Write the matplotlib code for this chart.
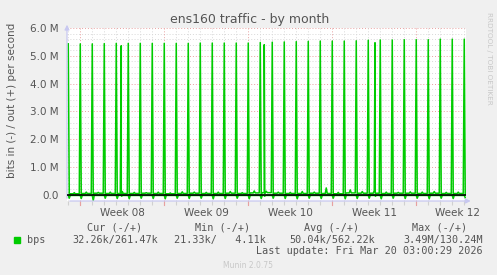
import numpy as np
import matplotlib
matplotlib.use("Agg")
import matplotlib.pyplot as plt
import matplotlib.dates as mdates
from datetime import datetime, timedelta

# ── data (bits/s) ───────────────────────────────────────────────
# one large daily burst at ~00:30, Feb 15 .. Mar 20
spike_days = [datetime(2026, 2, 15) + timedelta(days=i) for i in range(34)]
spike_out = [5.43, 5.43, 5.43, 5.44, 5.45, 5.45, 5.45, 5.45, 5.45, 5.45,
             5.45, 5.46, 5.46, 5.46, 5.46, 5.46, 5.48, 5.49, 5.50, 5.51,
             5.52, 5.53, 5.53, 5.53, 5.54, 5.56, 5.57, 5.57, 5.58, 5.58,
             5.58, 5.60, 5.60, 5.60]
# daily background level and midday bump of the out traffic (M)
base_out = [0.04, 0.05, 0.06, 0.05, 0.05, 0.05, 0.06, 0.05, 0.04, 0.05,
            0.06, 0.05, 0.05, 0.06, 0.05, 0.07, 0.08, 0.06, 0.05, 0.05,
            0.06, 0.05, 0.04, 0.07, 0.06, 0.06, 0.05, 0.06, 0.06, 0.05,
            0.06, 0.05, 0.05, 0.04]
bump_out = [0.08, 0.10, 0.09, 0.10, 0.12, 0.09, 0.08, 0.10, 0.07, 0.11,
            0.10, 0.09, 0.10, 0.12, 0.08, 0.14, 0.13, 0.10, 0.09, 0.12,
            0.10, 0.25, 0.09, 0.18, 0.12, 0.15, 0.10, 0.09, 0.11, 0.10,
            0.12, 0.09, 0.10, 0.08]
# in traffic (drawn negative), dip right after each burst (M)
dip_in = [0.12, 0.13, 0.20, 0.12, 0.13, 0.14, 0.12, 0.13, 0.14, 0.12,
          0.13, 0.12, 0.14, 0.13, 0.12, 0.14, 0.13, 0.12, 0.13, 0.14,
          0.12, 0.13, 0.12, 0.14, 0.13, 0.12, 0.14, 0.12, 0.13, 0.12,
          0.14, 0.12, 0.13, 0.10]
# extra bursts outside the nightly slot
extra_times = [datetime(2026, 2, 19, 10, 30), datetime(2026, 3, 3, 8, 30),
               datetime(2026, 3, 12, 14, 0)]
extra_out = [5.36, 5.40, 5.47]

week_labels = ["Week 08", "Week 09", "Week 10", "Week 11", "Week 12"]
week_starts = [datetime(2026, 2, 16) + timedelta(days=7 * i) for i in range(5)]

legend_rows = {
    "Cur (-/+)": "32.26k/261.47k",
    "Min (-/+)": "21.33k/   4.11k",
    "Avg (-/+)": "50.04k/562.22k",
    "Max (-/+)": "3.49M/130.24M",
}

t_end = datetime(2026, 3, 20, 3, 0, 29)
t_start = t_end - timedelta(days=33.21)

# ── build 2-hourly series from the daily values ─────────────────
times, out_v, in_v = [], [], []
for d, sp, b, bu, di in zip(spike_days, spike_out, base_out, bump_out, dip_in):
    for h in range(12):
        t = d + timedelta(hours=2 * h, minutes=30)
        if t > t_end:
            break
        if h == 0:
            o, i = sp, 0.02
        elif h == 1:
            o, i = 0.01, di
        elif h == 6:
            o, i = bu, 0.02
        else:
            o, i = b, 0.02
        times.append(t); out_v.append(o); in_v.append(i)
for t, v in zip(extra_times, extra_out):
    times.append(t); out_v.append(v); in_v.append(0.02)
    times.append(t + timedelta(hours=1)); out_v.append(0.05); in_v.append(0.05)
order = np.argsort(times)
times = [times[k] for k in order]
out_v = np.array(out_v)[order] * 1e6
in_v = -np.array(in_v)[order] * 1e6

# ── figure ──────────────────────────────────────────────────────
W, H = 497, 275
fig = plt.figure(figsize=(W / 100, H / 100), dpi=100, facecolor="#f0f0f0")
ax = fig.add_axes([67 / W, 1 - 201 / H, (465.5 - 67) / W, (201 - 28) / H])
ax.set_facecolor("white")

green = "#00cc00"
ax.plot(times, out_v, color=green, lw=1.1, zorder=3)
ax.plot(times, in_v, color=green, lw=1.1, zorder=3)
ax.axhline(0, color="black", lw=1.2, zorder=4)

ax.set_xlim(t_start, t_end)
ax.set_ylim(-0.22e6, 6.0e6)

# grid
for y in np.arange(0, 6.01e6, 0.2e6):
    major = abs(y / 1e6 - round(y / 1e6)) < 1e-6
    ax.axhline(y, color="#e8a0a0" if major else "#d8d8d8", lw=0.7,
               ls=(0, (1, 2)), zorder=1, clip_on=False)
d = datetime(2026, 2, 15)
while d <= t_end:
    major = d.weekday() == 0
    ax.axvline(d, color="#e8a0a0" if major else "#d8d8d8", lw=0.7,
               ls=(0, (1, 2)), zorder=1)
    d += timedelta(days=1)

for s in ax.spines.values():
    s.set_visible(False)
ax.set_yticks(np.arange(0, 6.01e6, 1e6))
ax.set_yticklabels([f"{v:.1f} M" if v else "0.0" for v in range(7)])
ax.tick_params(axis="y", length=0, labelsize=7.5, labelcolor="#555555", pad=6)
ax.xaxis.set_major_locator(mdates.DayLocator())
ax.tick_params(axis="x", length=3, color="#d0d0d0", labelbottom=False)
for t, lab in zip(week_starts, week_labels):
    ax.plot([t, t], [-0.22e6, -0.35e6], color="#e8a0a0", lw=0.8, clip_on=False)
    ax.text(t + timedelta(days=3.5), -0.64e6, lab,
            ha="center", va="center", fontsize=7.5, color="#555555")

# axis arrows
axc = "#c8c8f0"
ax.annotate("", xy=(1.02, 0), xytext=(0, 0), xycoords="axes fraction",
            arrowprops=dict(arrowstyle="-|>", color=axc, lw=0.9, mutation_scale=7))
ax.annotate("", xy=(0, 1.035), xytext=(0, 0), xycoords="axes fraction",
            arrowprops=dict(arrowstyle="-|>", color=axc, lw=0.9, mutation_scale=7))

# texts
def px(x, y):
    return x / W, 1 - y / H

fig.text(*px(250, 19), "ens160 traffic - by month", ha="center", va="center",
         fontsize=9, color="#555555")
fig.text(*px(12, 100), "bits in (-) / out (+) per second", rotation=90,
         ha="center", va="center", fontsize=7.5, color="#555555")
fig.text(*px(489, 58), "RRDTOOL / TOBI OETIKER", rotation=270, ha="center",
         va="center", fontsize=5.2, color="#c8c8c8")

mono = dict(family="DejaVu Sans Mono", fontsize=7.3, color="#555555")
fig.patches.append(plt.Rectangle(px(14, 243), 6 / W, 6 / H, color=green,
                                 transform=fig.transFigure, figure=fig))
fig.text(*px(27, 240), "bps", va="center", **mono)
col_right = [158, 266, 375, 483]
for (hdr, val), xr in zip(legend_rows.items(), col_right):
    fig.text(*px(xr - 16, 228), hdr, ha="right", va="center", **mono)
    fig.text(*px(xr, 240), val, ha="right", va="center", **mono)
fig.text(*px(483, 251), "Last update: Fri Mar 20 03:00:29 2026", ha="right",
         va="center", **mono)
fig.text(*px(248, 265), "Munin 2.0.75", ha="center", va="center",
         fontsize=5.5, color="#c8c8c8")

fig.savefig("out.png", dpi=100, facecolor=fig.get_facecolor())
